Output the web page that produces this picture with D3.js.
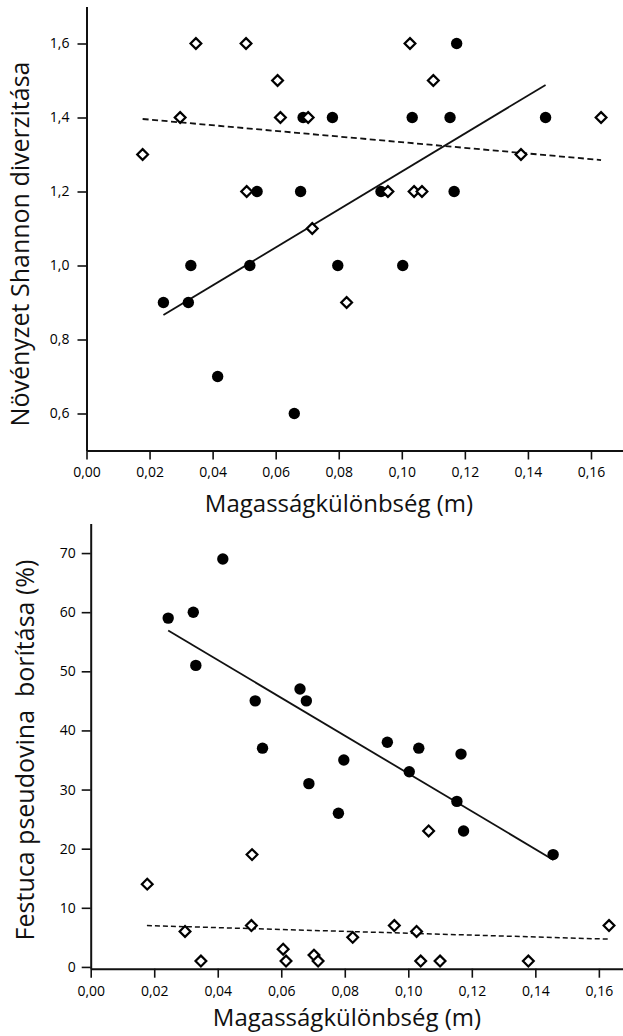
<!DOCTYPE html>
<html>
<head>
<meta charset="utf-8">
<script src="https://cdn.jsdelivr.net/npm/d3@7"></script>
<style>
  body { margin: 0; background: #fff; }
  svg { display: block; font-family: "Open Sans", sans-serif; }
</style>
</head>
<body>
<div id="chart"></div>
<script>

  // ---------------------------//
  //            DATA            //
  // ---------------------------//

  // filled circles
  var filledX = [0.0244, 0.0323, 0.0331, 0.0416, 0.0518, 0.0541, 0.0659, 0.0679, 0.0687, 0.0780, 0.0797, 0.0934, 0.1003, 0.1033, 0.1153, 0.1166, 0.1174, 0.1456];
  var filledShannon = [0.9, 0.9, 1.0, 0.7, 1.0, 1.2, 0.6, 1.2, 1.4, 1.4, 1.0, 1.2, 1.0, 1.4, 1.4, 1.2, 1.6, 1.4];
  var filledFestuca = [59, 60, 51, 69, 45, 37, 47, 45, 31, 26, 35, 38, 33, 37, 28, 36, 23, 19];

  // open diamonds
  var openX = [0.0178, 0.0297, 0.0347, 0.0506, 0.0508, 0.0606, 0.0615, 0.0703, 0.0716, 0.0825, 0.0956, 0.1026, 0.1039, 0.1064, 0.1100, 0.1378, 0.1632];
  var openShannon = [1.3, 1.4, 1.6, 1.6, 1.2, 1.5, 1.4, 1.4, 1.1, 0.9, 1.2, 1.6, 1.2, 1.2, 1.5, 1.3, 1.4];
  var openFestuca = [14, 6, 1, 7, 19, 3, 1, 2, 1, 5, 7, 6, 1, 23, 1, 1, 7];

  // regression lines (start, end)
  var fitShannonFilled = [[0.0244, 0.866], [0.1456, 1.488]];
  var fitShannonOpen = [[0.0178, 1.396], [0.1632, 1.285]];
  var fitFestucaFilled = [[0.0244, 56.9], [0.1457, 18.1]];
  var fitFestucaOpen = [[0.0177, 7.0], [0.1632, 4.7]];

  // ticks
  var xTicks = [0, 0.02, 0.04, 0.06, 0.08, 0.10, 0.12, 0.14, 0.16];
  var shannonTicks = [0.6, 0.8, 1.0, 1.2, 1.4, 1.6];
  var festucaTicks = [0, 10, 20, 30, 40, 50, 60, 70];

  var xTitle = "Magasságkülönbség (m)";
  var shannonTitle = "Növényzet Shannon diverzitása";
  var festucaTitle = "Festuca pseudovina  borítása (%)";

  // ---------------------------//
  //          CONTAINER         //
  // ---------------------------//

  var width = 623;
  var height = 1036;

  var svg = d3.select("#chart")
    .append("svg")
    .attr("width", width)
    .attr("height", height);

  var hu = d3.formatLocale({ decimal: ",", thousands: " ", grouping: [3], currency: ["", ""] });

  // ---------------------------//
  //           PANELS           //
  // ---------------------------//

  function drawPanel(p) {
    var g = svg.append("g");

    var x = d3.scaleLinear().domain([0, 0.17]).range([p.left, p.left + 0.17 * p.xUnit]);
    var y = d3.scaleLinear().domain(p.yDomain).range([p.bottom, p.top]);

    var line = d3.line()
      .x(function(d) { return x(d[0]); })
      .y(function(d) { return y(d[1]); });

    // fit lines
    g.append("path")
      .datum(p.fitFilled)
      .attr("fill", "none")
      .attr("stroke", "#111")
      .attr("stroke-width", 1.8)
      .attr("d", line);

    g.append("path")
      .datum(p.fitOpen)
      .attr("fill", "none")
      .attr("stroke", "#111")
      .attr("stroke-width", p.dashWidth)
      .attr("stroke-dasharray", p.dash)
      .attr("d", line);

    // filled circles
    g.selectAll("circle")
      .data(d3.zip(filledX, p.filledY))
      .enter()
      .append("circle")
      .attr("cx", function(d) { return x(d[0]); })
      .attr("cy", function(d) { return y(d[1]); })
      .attr("r", 5.7)
      .attr("fill", "#000");

    // open diamonds
    var dm = 5.4;
    g.selectAll("path.diamond")
      .data(d3.zip(openX, p.openY))
      .enter()
      .append("path")
      .attr("class", "diamond")
      .attr("transform", function(d) { return "translate(" + x(d[0]) + "," + y(d[1]) + ")"; })
      .attr("d", "M0," + (-dm) + "L" + dm + ",0L0," + dm + "L" + (-dm) + ",0Z")
      .attr("fill", "#fff")
      .attr("stroke", "#000")
      .attr("stroke-width", 2.2);

    // axes
    var xAxis = g.append("g")
      .attr("transform", "translate(0," + p.bottom + ")")
      .call(d3.axisBottom(x)
        .tickValues(xTicks)
        .tickFormat(hu.format(".2f"))
        .tickSize(9)
        .tickPadding(8)
        .tickSizeOuter(0));

    var yAxis = g.append("g")
      .attr("transform", "translate(" + p.left + ",0)")
      .call(d3.axisLeft(y)
        .tickValues(p.yTicks)
        .tickFormat(p.yFormat)
        .tickSize(9)
        .tickPadding(p.yPad)
        .tickSizeOuter(0));

    [xAxis, yAxis].forEach(function(a) {
      a.select(".domain").attr("stroke", "#111").attr("stroke-width", 2);
      a.selectAll(".tick line").attr("stroke", "#111").attr("stroke-width", 1.6);
      a.selectAll(".tick text")
        .attr("fill", "#000")
        .style("font-family", "'Open Sans', sans-serif")
        .style("font-size", "14px");
    });

    // titles
    g.append("text")
      .attr("x", p.xTitleX)
      .attr("y", p.xTitleY)
      .attr("text-anchor", "middle")
      .style("font-size", "24px")
      .attr("fill", "#111")
      .text(xTitle);

    g.append("text")
      .attr("transform", "translate(" + p.yTitleX + "," + p.yTitleY + ") rotate(-90)")
      .attr("text-anchor", "middle")
      .style("font-size", "25px")
      .style("white-space", "pre")
      .attr("fill", "#111")
      .text(p.yTitle);
  }

  drawPanel({
    left: 86.5, xUnit: 3153, top: 6.5, bottom: 450.5,
    yDomain: [0.5, 1.7], yTicks: shannonTicks, yFormat: hu.format(".1f"), yPad: 8,
    filledY: filledShannon, openY: openShannon,
    fitFilled: fitShannonFilled, fitOpen: fitShannonOpen,
    dash: "6,3.5", dashWidth: 1.8,
    xTitleX: 339, xTitleY: 512,
    yTitle: shannonTitle, yTitleX: 29, yTitleY: 244
  });

  drawPanel({
    left: 90.7, xUnit: 3176, top: 523.5, bottom: 968.7,
    yDomain: [-0.3, 75], yTicks: festucaTicks, yFormat: d3.format("d"), yPad: 6,
    filledY: filledFestuca, openY: openFestuca,
    fitFilled: fitFestucaFilled, fitOpen: fitFestucaOpen,
    dash: "5,3", dashWidth: 1.5,
    xTitleX: 347, xTitleY: 1026,
    yTitle: festucaTitle, yTitleX: 34, yTitleY: 750
  });

</script>
</body>
</html>
